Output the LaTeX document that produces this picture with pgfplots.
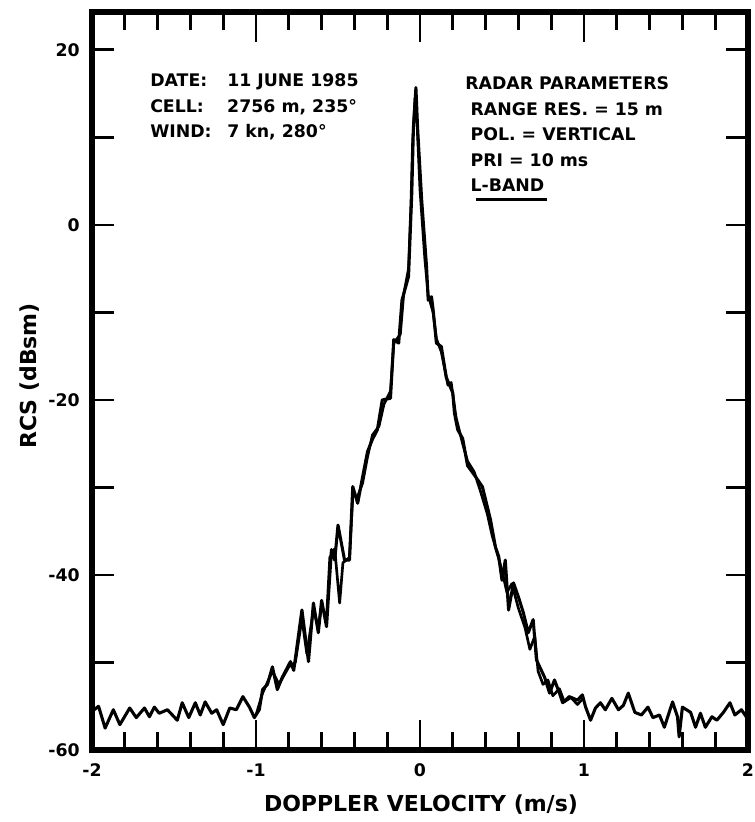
\documentclass[border=0pt]{standalone}
\usepackage{fontspec}
\setmainfont{DejaVu Sans}
\usepackage{pgfplots}
\pgfplotsset{compat=1.18}

% two traces of the Doppler spectrum (they overlap almost everywhere)
\pgfplotstableread{
x y
-2.00 -55.6
-1.96 -55.0
-1.92 -57.5
-1.87 -55.4
-1.83 -57.1
-1.77 -55.2
-1.73 -56.3
-1.68 -55.2
-1.65 -56.2
-1.62 -55.1
-1.59 -55.8
-1.54 -55.4
-1.48 -56.6
-1.45 -54.6
-1.41 -56.3
-1.37 -54.6
-1.34 -56.0
-1.31 -54.5
-1.27 -55.8
-1.24 -55.4
-1.20 -57.1
-1.16 -55.2
-1.12 -55.4
-1.08 -53.9
-1.04 -55.1
-1.01 -56.3
-0.98 -55.4
-0.96 -53.1
-0.93 -52.5
-0.90 -50.5
-0.87 -53.1
-0.84 -51.7
-0.79 -49.9
-0.77 -50.9
-0.72 -44.0
-0.68 -49.9
-0.65 -43.2
-0.62 -46.6
-0.60 -42.9
-0.57 -45.9
-0.54 -37.1
-0.52 -38.3
-0.50 -34.3
-0.46 -38.3
-0.43 -38.3
-0.41 -29.9
-0.38 -31.8
-0.35 -28.8
-0.32 -25.9
-0.29 -24.5
-0.26 -23.4
-0.23 -20.0
-0.18 -19.8
-0.16 -13.1
-0.13 -13.5
-0.11 -8.6
-0.07 -5.9
-0.05 3.7
-0.04 11.2
-0.025 15.7
-0.015 11.2
0.01 2.9
0.04 -4.8
0.05 -8.6
0.07 -8.2
0.08 -9.7
0.10 -13.5
0.13 -13.9
0.16 -17.4
0.20 -19.2
0.21 -21.5
0.23 -23.4
0.26 -24.4
0.29 -27.5
0.34 -28.8
0.38 -29.9
0.40 -31.4
0.43 -33.7
0.46 -36.8
0.48 -37.9
0.50 -40.6
0.52 -38.3
0.54 -44.0
0.57 -40.9
0.60 -42.5
0.63 -44.3
0.66 -46.6
0.69 -45.1
0.71 -49.7
0.73 -50.5
0.76 -51.7
0.79 -53.5
0.82 -52.0
0.85 -53.5
0.87 -54.6
0.91 -53.9
0.96 -54.3
0.99 -53.7
1.01 -55.1
1.04 -56.6
1.07 -55.2
1.10 -54.6
1.13 -55.4
1.17 -54.1
1.21 -55.4
1.24 -54.9
1.27 -53.5
1.31 -55.7
1.35 -56.0
1.39 -55.1
1.42 -56.3
1.46 -56.0
1.49 -57.4
1.54 -54.5
1.57 -56.2
1.58 -58.5
1.60 -55.1
1.65 -55.7
1.68 -57.4
1.71 -55.8
1.74 -57.4
1.78 -56.2
1.81 -56.6
1.85 -55.7
1.89 -54.6
1.92 -56.0
1.96 -55.4
2.00 -56.5
}\traceA

\pgfplotstableread{
x y
-1.00 -56.0
-0.96 -53.5
-0.90 -51.0
-0.86 -52.5
-0.80 -50.5
-0.76 -50.0
-0.72 -45.0
-0.69 -49.0
-0.65 -44.0
-0.62 -46.0
-0.60 -43.5
-0.57 -45.0
-0.55 -38.0
-0.52 -37.0
-0.49 -43.2
-0.47 -38.6
-0.43 -38.0
-0.41 -31.0
-0.38 -31.0
-0.35 -29.5
-0.32 -26.5
-0.29 -24.0
-0.25 -23.0
-0.22 -20.5
-0.18 -19.0
-0.16 -13.5
-0.12 -12.5
-0.10 -8.0
-0.07 -5.0
-0.055 2.5
-0.045 9.5
-0.03 14.5
-0.02 12.5
0.00 4.0
0.03 -4.0
0.05 -8.0
0.08 -10.0
0.10 -13.0
0.13 -14.5
0.17 -18.3
0.19 -18.0
0.22 -22.0
0.26 -25.0
0.29 -27.0
0.33 -28.2
0.37 -30.5
0.41 -33.0
0.44 -35.5
0.47 -37.5
0.50 -39.5
0.53 -42.0
0.56 -41.0
0.60 -43.8
0.64 -46.0
0.67 -48.5
0.70 -47.0
0.72 -51.0
0.75 -52.5
0.78 -52.0
0.81 -53.8
0.85 -53.0
0.88 -54.5
0.92 -54.0
0.96 -54.8
1.00 -54.0
}\traceB

\pgfplotsset{
  frame/.style={
    width=492pt, height=553.5pt, scale only axis,
    xmin=-2, xmax=2, ymin=-60, ymax=24.34,
    tick align=inside,
    every tick/.style={black, line width=2.2pt},
  },
}

\begin{document}
\begin{tikzpicture}[font=\bfseries\fontsize{13}{19.1}\selectfont]
% long ticks at the whole m/s values, drawn by a bare second axis
\begin{axis}[
  frame,
  hide y axis,
  axis x line*=box,
  axis line style={draw=none},
  xtick={-2,-1,0,1,2},
  xticklabels={},
  major tick length=22.5pt,
]
\end{axis}
\begin{axis}[
  name=ax,
  frame,
  xtick={-2,-1,0,1,2},
  xticklabels={-2,-1,0,1,2},
  minor x tick num=4,
  ytick={-60,-50,...,20},
  yticklabels={-60,,-40,,-20,,0,,20},
  major tick length=16.5pt,
  minor tick length=13.5pt,
  axis line style={line width=4pt, line join=miter},
  xticklabel style={anchor=center, yshift=-15pt, inner sep=0pt},
  yticklabel style={anchor=east, xshift=-9pt, inner sep=0pt},
  xlabel={DOPPLER VELOCITY (m/s)},
  ylabel={RCS (dBsm)},
  xlabel style={at={(axis description cs:0.5015,-0.0745)}, anchor=center,
    font=\bfseries\fontsize{16.5}{19}\selectfont},
  ylabel style={at={(axis description cs:-0.0945,0.507)}, anchor=center,
    font=\bfseries\fontsize{16.5}{19}\selectfont},
  clip=false,
]
\addplot[black, line width=2.3pt, line join=round] table {\traceA};
\addplot[black, line width=2pt, line join=round] table {\traceB};

\node[anchor=base west, inner sep=0pt] at (rel axis cs:0.0884,0.8984) {%
  \begin{tabular}[t]{@{}p{57.75pt}@{}l@{}}
  DATE: & 11 JUNE 1985\\
  CELL: & 2756 m, 235°\\
  WIND: & 7 kn, 280°
  \end{tabular}};

\node[anchor=base west, inner sep=0pt] at (rel axis cs:0.5686,0.8943) {%
  \begin{tabular}[t]{@{}l@{}}
  RADAR PARAMETERS\\
  \hspace{4pt}RANGE RES. = 15 m\\
  \hspace{4pt}POL. = VERTICAL\\
  \hspace{4pt}PRI = 10 ms\\
  \hspace{4pt}\makebox[0pt][l]{\hspace{4pt}\rule[-7pt]{53pt}{2.2pt}}L-BAND
  \end{tabular}};
\end{axis}
\pgfresetboundingbox
\path[use as bounding box] ([shift={(-69pt,-54pt)}]ax.south west)
  rectangle ([shift={(4.5pt,9pt)}]ax.north east);
\end{tikzpicture}
\end{document}
